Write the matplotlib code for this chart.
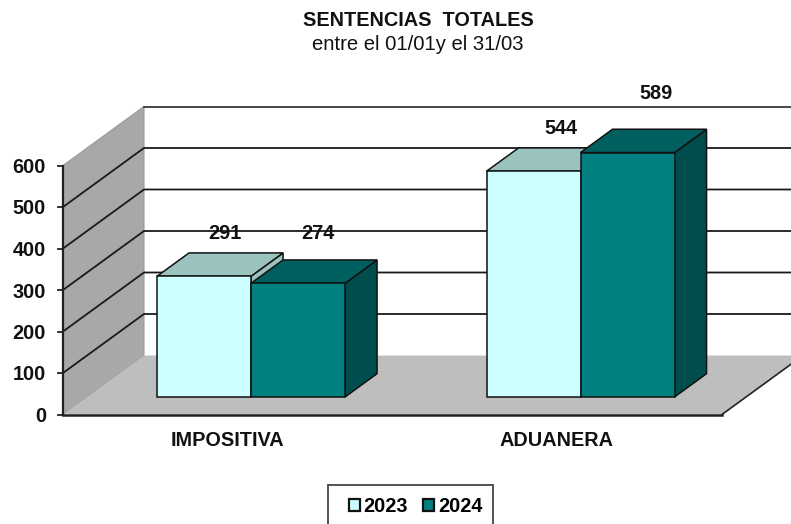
import matplotlib
matplotlib.use("Agg")
import matplotlib.pyplot as plt
from matplotlib.patches import Polygon, Rectangle

# ---- data ----
categories = ["IMPOSITIVA", "ADUANERA"]
series_names = ["2023", "2024"]
values_2023 = [291, 544]
values_2024 = [274, 589]
y_ticks = [0, 100, 200, 300, 400, 500, 600]
title = "SENTENCIAS  TOTALES"
subtitle = "entre el 01/01y el 31/03"

# ---- layout ----
W, H = 791, 524
X0 = 63.0            # plot front-left, px
Y0 = 414.5           # value 0 at the front plane, px
PX_PER_UNIT = 0.415
CAT_W = 329.5
DEPTH_X, DEPTH_Y = 81.0, 59.0
BAR_W = 94.0
BAR_PAD = 70.0
BAR_D0, BAR_D1 = 0.297, 0.692
FONT = "Liberation Sans"
LABEL_SIZE = 14.3

fig = plt.figure(figsize=(W / 100, H / 100), dpi=100)
ax = fig.add_axes([0, 0, 1, 1])
ax.set_xlim(0, W)
ax.set_ylim(-(H - Y0) / PX_PER_UNIT, Y0 / PX_PER_UNIT)
ax.axis("off")


def P(x, v, d=0.0):
    """Oblique projection: x px along the front plane, value v, depth d (0-1)."""
    return (X0 + x + DEPTH_X * d, v + DEPTH_Y * d / PX_PER_UNIT)


def poly(pts, fc, ec="#111111", lw=1.1, z=2):
    ax.add_patch(Polygon(pts, closed=True, fc=fc, ec=ec, lw=lw, zorder=z, joinstyle="miter"))


span = CAT_W * len(categories)
top = y_ticks[-1]

# back wall
poly([P(0, 0, 1), P(span, 0, 1), P(span, top, 1), P(0, top, 1)], "white", ec="none", z=0)
# side wall
poly([P(0, 0), P(0, 0, 1), P(0, top, 1), P(0, top)], "#A8A8A8", ec="#9A9A9A", lw=0.8, z=1)
# floor
poly([P(0, 0), P(span, 0), P(span, 0, 1), P(0, 0, 1)], "#BEBEBE", ec="none", z=1)
ax.plot(*zip(P(span, 0), P(span, 0, 1)), color="#222222", lw=1.2, zorder=1.5)
ax.plot(*zip(P(0, 0), P(span, 0)), color="#222222", lw=1.8, zorder=1.5)

# grid lines
for v in y_ticks[1:-1]:
    pts = [P(0, v), P(0, v, 1), P(span, v, 1)]
    ax.plot(*zip(*pts), color="#1a1a1a", lw=1.3, zorder=1.2, solid_joinstyle="miter")
ax.plot(*zip(P(0, top, 1), P(span, top, 1)), color="#3a3a3a", lw=1.3, zorder=1.2)

# value axis + ticks + labels
ax.plot(*zip(P(0, 0), P(0, top)), color="#222222", lw=1.6, zorder=1.5)
for v in y_ticks:
    ax.plot([X0 - 5, X0], [v, v], color="#222222", lw=1.3, zorder=1.5)
    ax.text(X0 - 17, v, str(v), ha="right", va="center_baseline", family=FONT,
            weight="bold", fontsize=LABEL_SIZE, color="#111111")


def bar3d(x, v, front, topc, side, z):
    d0, d1 = BAR_D0, BAR_D1
    poly([P(x + BAR_W, 0, d0), P(x + BAR_W, 0, d1), P(x + BAR_W, v, d1), P(x + BAR_W, v, d0)], side, z=z)
    poly([P(x, v, d0), P(x + BAR_W, v, d0), P(x + BAR_W, v, d1), P(x, v, d1)], topc, z=z)
    poly([P(x, 0, d0), P(x + BAR_W, 0, d0), P(x + BAR_W, v, d0), P(x, v, d0)], front, z=z)


styles = [("#CCFFFF", "#9AC2BF", "#9AC2BF"), ("#008080", "#006060", "#004D4D")]
label_nudge = [[(68, 42.5), (66.5, 49.5)], [(74, 42.5), (75, 59.5)]]
series = [values_2023, values_2024]

for c, cat in enumerate(categories):
    base = CAT_W * c + BAR_PAD
    for s, vals in enumerate(series):
        x = base + s * BAR_W
        bar3d(x, vals[c], *styles[s], z=3 + s)
        dx, dy = label_nudge[c][s]
        px, pv = P(x, vals[c], BAR_D0)
        ax.text(px + dx, pv + dy / PX_PER_UNIT, str(vals[c]), ha="center", va="center",
                family=FONT, weight="bold", fontsize=LABEL_SIZE, color="#111111", zorder=6)
    ax.text(X0 + CAT_W * c + 164, -(440 - Y0) / PX_PER_UNIT, cat, ha="center", va="center",
            family=FONT, weight="bold", fontsize=LABEL_SIZE, color="#111111")

# titles
ax.text(418.5, (Y0 - 21) / PX_PER_UNIT, title, ha="center", va="center", family=FONT,
        weight="bold", fontsize=14.3, color="#111111")
ax.text(418, (Y0 - 44) / PX_PER_UNIT, subtitle, ha="center", va="center", family=FONT,
        fontsize=14.6, color="#111111")

# legend
ax.add_patch(Rectangle((328, -(H + 5 - Y0) / PX_PER_UNIT), 165, (H + 5 - 485) / PX_PER_UNIT,
                       fc="white", ec="#444444", lw=1.3, zorder=7))
handles = [Rectangle((0, 0), 1, 1, fc=styles[i][0], ec="#111111", lw=1.6) for i in range(2)]
leg = ax.legend(handles, series_names, loc="center", frameon=False, ncols=2,
                bbox_to_anchor=(415.5 / W, 1 - 506.5 / H), handlelength=0.55, handleheight=0.55,
                handletextpad=0.2, columnspacing=0.75,
                prop={"family": FONT, "weight": "bold", "size": LABEL_SIZE})
leg.set_zorder(8)

fig.savefig("out.png", dpi=100)
